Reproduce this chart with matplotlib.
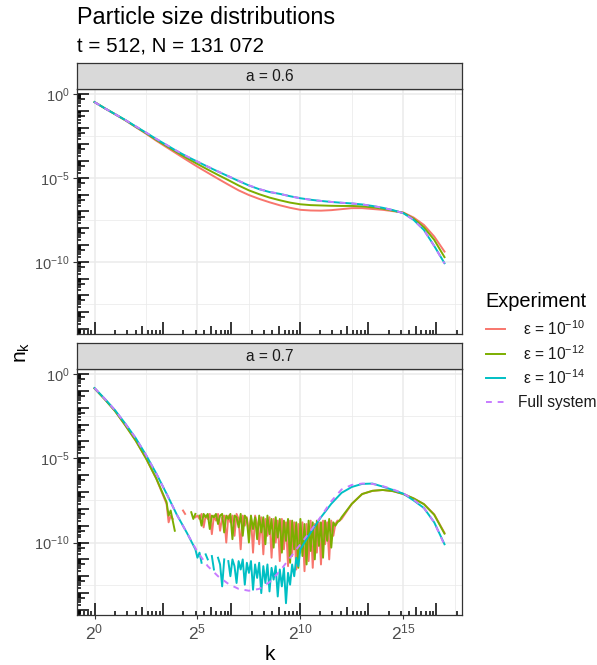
import numpy as np
import matplotlib
matplotlib.use("Agg")
import matplotlib.pyplot as plt
from matplotlib.lines import Line2D
from matplotlib.collections import LineCollection
from matplotlib.ticker import NullFormatter

plt.rcParams["font.family"] = ["Liberation Sans", "DejaVu Sans"]
plt.rcParams["mathtext.default"] = "regular"

# ---- data: log2(k) positions and log10(n_k) values ----
grid_half = np.arange(35) * 0.5          # log2 k = 0, 0.5, ..., 17

# a = 0.6
top_red = [-0.48, -0.85, -1.21, -1.57, -1.97, -2.36, -2.78, -3.17, -3.56, -3.95,
           -4.33, -4.69, -5.05, -5.40, -5.74, -6.02, -6.25, -6.45, -6.63, -6.78,
           -6.90, -6.94, -6.95, -6.92, -6.86, -6.80, -6.80, -6.85, -6.90, -6.98,
           -7.06, -7.36, -7.80, -8.49, -9.39]
top_green = [-0.48, -0.85, -1.20, -1.56, -1.95, -2.33, -2.73, -3.10, -3.47, -3.83,
             -4.17, -4.50, -4.82, -5.13, -5.45, -5.74, -5.97, -6.17, -6.33, -6.47,
             -6.57, -6.62, -6.64, -6.66, -6.67, -6.67, -6.70, -6.75, -6.83, -6.95,
             -7.08, -7.43, -7.94, -8.69, -9.72]
top_cyan = [-0.48, -0.85, -1.20, -1.55, -1.93, -2.30, -2.68, -3.04, -3.40, -3.73,
            -4.03, -4.33, -4.62, -4.90, -5.18, -5.45, -5.67, -5.84, -5.95, -6.09,
            -6.21, -6.30, -6.37, -6.43, -6.48, -6.52, -6.58, -6.67, -6.78, -6.92,
            -7.10, -7.50, -8.10, -9.05, -10.08]
top_full = [-0.48, -0.85, -1.20, -1.55, -1.92, -2.29, -2.67, -3.03, -3.39, -3.72,
            -4.02, -4.32, -4.61, -4.89, -5.17, -5.44, -5.66, -5.83, -5.95, -6.09,
            -6.21, -6.30, -6.37, -6.43, -6.48, -6.52, -6.58, -6.67, -6.78, -6.92,
            -7.10, -7.50, -8.10, -9.06, -10.10]

# a = 0.7
head_rg_x = np.arange(7) * 0.5           # 0 .. 3
bot_red_head = [-0.85, -1.50, -2.20, -3.05, -3.95, -5.00, -6.20]
bot_green_head = [-0.85, -1.50, -2.20, -3.05, -3.95, -5.00, -6.20]

noise_rg_x = np.arange(35, 119) / 10     # 3.5 .. 11.8
nan = np.nan
bot_red_noise = [
    -7.7, -8.8, -8.4, -8.6, nan, nan, nan, nan, -8.1, -8.3,
    nan, nan, nan, nan, -8.5, -8.4, -8.6, -8.3, -9.1, -8.4,
    -8.6, -8.3, -9.5, -8.4, -8.7, -8.3, -9.3, -8.5, -8.4, -10.0,
    -8.4, -8.8, -8.4, -9.6, -8.3, -8.6, -10.4, -8.4, -9.0, -8.5,
    -9.4, -8.5, -10.6, -8.4, -8.9, -10.1, -8.5, -10.7, -8.6, -9.6,
    -8.5, -10.9, -8.6, -10.0, -8.7, -11.1, -8.6, -10.4, -8.8, -11.4,
    -8.7, -10.8, -8.8, -11.6, -8.9, -10.6, -8.8, -11.7, -8.9, -11.1,
    -8.7, -11.5, -8.9, -10.6, -8.8, -11.3, -8.7, -10.1, -8.8, -11.0,
    -8.7, -9.6, -8.9, -8.7]
bot_green_noise = [
    -7.6, -8.4, -8.1, -8.7, -9.3, nan, nan, nan, nan, nan,
    nan, nan, -8.2, -8.6, -8.3, nan, -8.4, -9.0, -8.3, -8.5,
    -8.3, -9.2, -8.4, -8.5, -8.3, -8.9, -8.4, -8.3, -9.4, -8.4,
    -8.6, -8.3, -9.8, -8.4, -8.5, -9.1, -8.3, -9.6, -8.4, -8.6,
    -10.0, -8.4, -9.2, -8.5, -9.8, -8.4, -9.4, -8.5, -10.1, -8.4,
    -9.5, -8.6, -10.3, -8.5, -9.7, -8.6, -10.6, -8.7, -9.9, -8.6,
    -11.2, -8.7, -10.4, -8.8, -11.5, -8.6, -10.8, -8.9, -11.3, -8.7,
    -10.5, -8.8, -11.0, -8.7, -10.2, -8.8, -10.9, -8.7, -9.9, -8.6,
    -10.3, -8.8, -9.0, -8.8]

tail_rg_x = [11.9, 12.0, 12.5, 13.0, 13.5, 14.0, 14.5, 15.0, 15.5, 16.0, 16.5, 17.0]
bot_red_tail = [-8.7, -8.6, -7.7, -7.12, -6.93, -6.88, -6.95, -7.12, -7.38, -7.72, -8.33, -9.43]
bot_green_tail = [-8.7, -8.5, -7.7, -7.12, -6.93, -6.88, -6.95, -7.12, -7.38, -7.72, -8.35, -9.47]

head_c_x = np.arange(10) * 0.5           # 0 .. 4.5
bot_cyan_head = [-0.83, -1.47, -2.15, -2.95, -3.80, -4.80, -5.90, -7.10, -8.35, -9.45]
noise_c_x = np.arange(49, 101) / 10      # 4.9 .. 10.0
bot_cyan_noise = [
    -10.4, -10.9, -10.6, -11.2, nan, -10.7, -11.0, nan, -10.8, -11.6,
    nan, -10.9, -11.3, -12.6, -11.0, nan, -11.1, -12.0, -11.0, -11.4,
    -12.4, -11.1, -11.6, -11.0, -12.5, -11.2, -11.8, -11.1, -12.8, -11.3,
    -12.1, -11.2, -13.0, -11.4, -12.4, -11.3, -12.9, -11.5, -12.2, -11.4,
    -13.2, -11.6, -12.6, -11.5, -13.6, -11.8, -12.5, -11.3, -12.0, -10.9,
    -11.4, -10.4]
tail_c_x = np.arange(21, 35) * 0.5       # 10.5 .. 17
bot_cyan_tail = [-9.4, -8.5, -7.7, -7.05, -6.7, -6.52, -6.5, -6.68, -6.88, -7.1,
                 -7.5, -7.95, -8.8, -10.1]

bot_full = [-0.83, -1.47, -2.15, -2.95, -3.80, -4.80, -5.90, -7.10, -8.35, -9.45,
            -10.55, -11.40, -12.00, -12.45, -12.75, -12.86, -12.75, -12.35, -11.70, -10.90,
            -10.10, -9.30, -8.45, -7.55, -6.85, -6.58, -6.50, -6.52, -6.65, -6.85,
            -7.08, -7.45, -7.95, -8.80, -10.15]

labels = ["ε = 10$^{-10}$", "ε = 10$^{-12}$", "ε = 10$^{-14}$", "Full system"]
colors = ["#F8766D", "#7CAE00", "#00BFC4", "#C77CFF"]
facets = ["a = 0.6", "a = 0.7"]

# ---- layout ----
W, H = 597, 665
fig = plt.figure(figsize=(W / 100, H / 100), dpi=100)


def fx(px):
    return px / W


def fy(py):
    return 1 - py / H


pl, pr = 77, 462
panels = [(89, 334), (369, 615)]
strip_h = 26
lw = 1.4
dash = (3, 3)

xlim = (2 ** -0.85, 2 ** 17.85)
ylim = (10 ** -14.3, 10 ** 0.3)


def add_logticks(ax, pw, ph):
    long_, mid_, short_ = 11.7, 7.8, 3.9
    segs_x, segs_y = [], []
    for e in range(-1, 6):
        for m in range(1, 10):
            v = m * 10.0 ** e
            if xlim[0] <= v <= xlim[1]:
                L = long_ if m == 1 else (mid_ if m == 5 else short_)
                segs_x.append([(v, 0), (v, L / ph)])
    for e in range(-15, 1):
        for m in range(1, 10):
            v = m * 10.0 ** e
            if ylim[0] <= v <= ylim[1]:
                L = long_ if m == 1 else (mid_ if m == 5 else short_)
                segs_y.append([(0, v), (L / pw, v)])
    ax.add_collection(LineCollection(segs_x, transform=ax.get_xaxis_transform(),
                                     colors="black", linewidths=1.1, capstyle="butt"))
    ax.add_collection(LineCollection(segs_y, transform=ax.get_yaxis_transform(),
                                     colors="black", linewidths=1.1, capstyle="butt"))


def pw2(a):
    return 2.0 ** np.asarray(a, dtype=float)


def pw10(a):
    return 10.0 ** np.asarray(a, dtype=float)


axes = []
for i, (top, bot) in enumerate(panels):
    ax = fig.add_axes([fx(pl), fy(bot), fx(pr - pl), (bot - top) / H])
    axes.append(ax)
    ax.set_xscale("log", base=2)
    ax.set_yscale("log")
    ax.set_xlim(*xlim)
    ax.set_ylim(*ylim)
    ax.set_xticks([1, 32, 1024, 32768], ["$2^{0}$", "$2^{5}$", "$2^{10}$", "$2^{15}$"])
    ax.set_yticks([1, 1e-5, 1e-10], ["$10^{0}$", "$10^{-5}$", "$10^{-10}$"])
    ax.set_xticks([2 ** 2.5, 2 ** 7.5, 2 ** 12.5, 2 ** 17.5], minor=True)
    ax.set_yticks([10 ** -2.5, 10 ** -7.5, 10 ** -12.5], minor=True)
    ax.xaxis.set_minor_formatter(NullFormatter())
    ax.yaxis.set_minor_formatter(NullFormatter())
    ax.grid(which="major", color="#EBEBEB", lw=1.1)
    ax.grid(which="minor", color="#EBEBEB", lw=0.55)
    ax.set_axisbelow(True)
    ax.tick_params(which="minor", length=0)
    ax.tick_params(which="major", direction="out", length=2.7, width=0.8,
                   color="#333333", labelcolor="#4D4D4D", pad=2.5)
    ax.tick_params(axis="y", labelsize=10.5)
    ax.tick_params(axis="x", labelsize=12.5)
    if i == 0:
        ax.tick_params(axis="x", which="major", length=0, labelbottom=False)
    for s in ax.spines.values():
        s.set_color("#333333")
        s.set_linewidth(0.9)
    add_logticks(ax, pr - pl, bot - top)

    sax = fig.add_axes([fx(pl), fy(top), fx(pr - pl), strip_h / H])
    sax.set_facecolor("#D9D9D9")
    sax.set_xticks([])
    sax.set_yticks([])
    for s in sax.spines.values():
        s.set_color("#333333")
        s.set_linewidth(0.9)
    sax.text(0.5, 0.47, facets[i], ha="center", va="center", fontsize=11.2,
             color="#1A1A1A", transform=sax.transAxes)

# top panel curves
ax = axes[0]
ax.plot(pw2(grid_half), pw10(top_red), color=colors[0], lw=lw)
ax.plot(pw2(grid_half), pw10(top_green), color=colors[1], lw=lw)
ax.plot(pw2(grid_half), pw10(top_cyan), color=colors[2], lw=lw)
ax.plot(pw2(grid_half), pw10(top_full), color=colors[3], lw=lw, dashes=dash)

# bottom panel curves
ax = axes[1]
red_x = np.concatenate([head_rg_x, noise_rg_x, tail_rg_x])
red_y = np.concatenate([bot_red_head, bot_red_noise, bot_red_tail])
green_y = np.concatenate([bot_green_head, bot_green_noise, bot_green_tail])
cyan_x = np.concatenate([head_c_x, noise_c_x, tail_c_x])
cyan_y = np.concatenate([bot_cyan_head, bot_cyan_noise, bot_cyan_tail])
ax.plot(pw2(red_x), pw10(red_y), color=colors[0], lw=lw)
ax.plot(pw2(red_x), pw10(green_y), color=colors[1], lw=lw)
ax.plot(pw2(cyan_x), pw10(cyan_y), color=colors[2], lw=lw)
ax.plot(pw2(grid_half), pw10(bot_full), color=colors[3], lw=lw, dashes=dash)

# titles and axis labels
fig.text(fx(77), fy(24.5), "Particle size distributions", fontsize=16.8, va="baseline")
fig.text(fx(77), fy(51), "t = 512, N = 131 072", fontsize=14.8, va="baseline")
fig.text(fx(22), fy(352), "n$_k$", fontsize=15, rotation=90, ha="center", va="center")
fig.text(fx(269.5), fy(654), "k", fontsize=15, ha="center", va="center")

# legend
fig.text(fx(485), fy(302), "Experiment", fontsize=14.4, va="center")
key_y = [329, 353.5, 378, 402]
for lab, col, ky, j in zip(labels, colors, key_y, range(4)):
    kw = dict(dashes=dash) if j == 3 else {}
    fig.add_artist(Line2D([fx(486), fx(505)], [fy(ky), fy(ky)], color=col, lw=lw,
                          transform=fig.transFigure, **kw))
    tx = 518 if j == 3 else 523
    fig.text(fx(tx), fy(ky), lab, fontsize=11.2, va="center", color="#1A1A1A")

fig.savefig("out.png", dpi=100)
